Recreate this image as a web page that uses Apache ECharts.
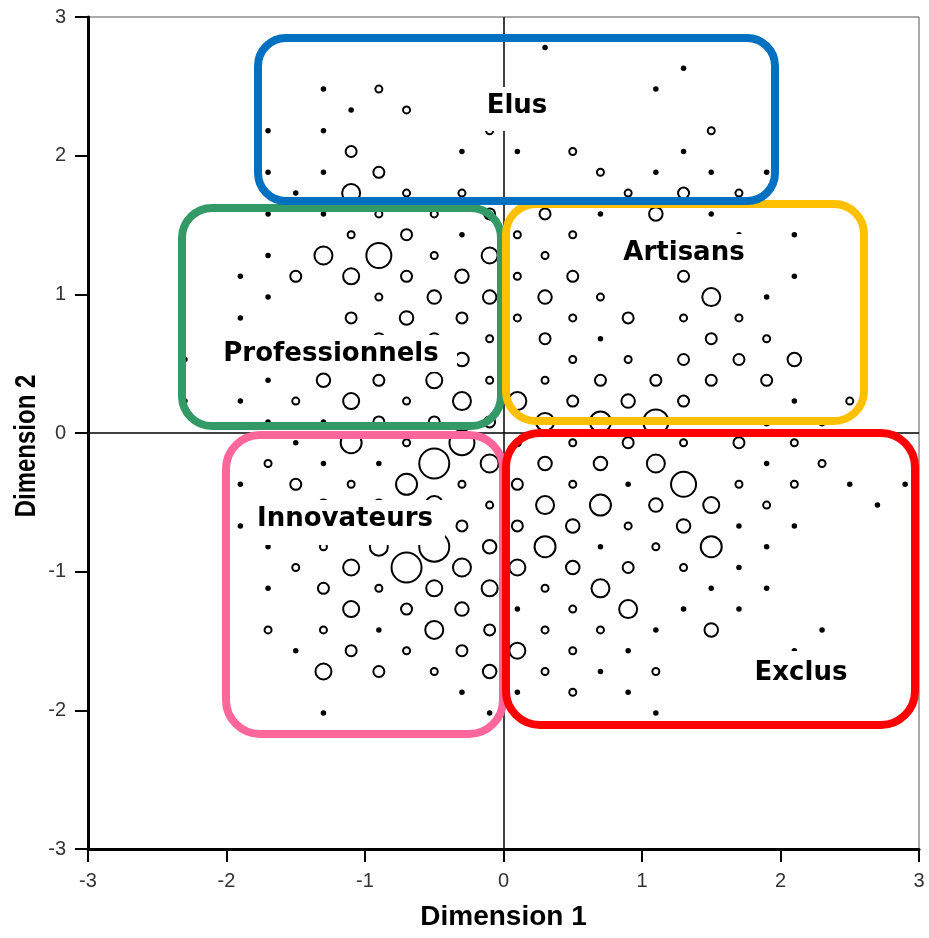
<!DOCTYPE html>
<html>
<head>
<meta charset="utf-8">
<script src="https://cdn.jsdelivr.net/npm/echarts@6/dist/echarts.min.js"></script>
<style>
  html, body { margin: 0; padding: 0; background: #fff; }
  #chart { width: 929px; height: 938px; }
</style>
</head>
<body>
<div id="chart"></div>
<script>
// ---- data: [dimension1, dimension2, weight level] ----
var upperLeft = [
  [-1.3,2.48,1],[-0.9,2.48,2],
  [-1.1,2.33,1],[-0.7,2.33,2],
  [-1.7,2.18,1],[-1.3,2.18,1],[-0.1,2.18,2],
  [-1.1,2.03,3],[-0.3,2.03,1],
  [-1.7,1.88,1],[-1.3,1.88,1],[-0.9,1.88,3],
  [-1.5,1.73,1],[-1.1,1.73,6],[-0.7,1.73,2],[-0.3,1.73,2],
  [-1.7,1.58,1],[-1.3,1.58,1],[-0.9,1.58,2],[-0.5,1.58,2],[-0.1,1.58,3],
  [-1.1,1.43,2],[-0.7,1.43,3],[-0.3,1.43,1],
  [-1.7,1.28,1],[-1.3,1.28,6],[-0.9,1.28,8],[-0.5,1.28,2],[-0.1,1.28,5],
  [-1.9,1.13,1],[-1.5,1.13,3],[-1.1,1.13,5],[-0.7,1.13,3],[-0.3,1.13,4],
  [-1.7,0.98,1],[-0.9,0.98,2],[-0.5,0.98,4],[-0.1,0.98,4],
  [-1.9,0.83,1],[-1.1,0.83,3],[-0.7,0.83,4],[-0.3,0.83,3],
  [-2.1,0.68,1],[-1.7,0.68,1],[-0.9,0.68,3],[-0.5,0.68,3],[-0.1,0.68,2],
  [-2.3,0.53,1],[-0.3,0.53,4],
  [-1.7,0.38,1],[-1.3,0.38,4],[-0.9,0.38,3],[-0.5,0.38,5],[-0.1,0.38,2],
  [-2.3,0.23,1],[-1.9,0.23,1],[-1.5,0.23,2],[-1.1,0.23,5],[-0.7,0.23,2],[-0.3,0.23,6],
  [-1.7,0.08,1],[-1.3,0.08,1],[-0.9,0.08,3],[-0.5,0.08,3],[-0.1,0.08,3]
];
var upperRight = [
  [0.3,2.78,1],
  [1.3,2.63,1],
  [1.1,2.48,1],
  [1.5,2.18,2],
  [0.1,2.03,1],[0.5,2.03,2],[1.3,2.03,1],
  [0.7,1.88,2],[1.1,1.88,1],[1.5,1.88,1],[1.9,1.88,1],
  [0.9,1.73,2],[1.3,1.73,3],[1.7,1.73,2],
  [0.3,1.58,3],[0.7,1.58,1],[1.1,1.58,4],[1.5,1.58,1],
  [0.1,1.43,2],[0.5,1.43,2],[1.7,1.43,1],[2.1,1.43,1],
  [0.3,1.28,2],
  [0.1,1.13,2],[0.5,1.13,3],[1.3,1.13,3],[2.1,1.13,1],
  [0.3,0.98,4],[0.7,0.98,2],[1.5,0.98,6],[1.9,0.98,1],
  [0.1,0.83,2],[0.5,0.83,2],[0.9,0.83,3],[1.3,0.83,2],[1.7,0.83,2],
  [0.3,0.68,3],[0.7,0.68,1],[1.5,0.68,3],[1.9,0.68,2],
  [0.5,0.53,2],[0.9,0.53,2],[1.3,0.53,3],[1.7,0.53,3],[2.1,0.53,4],
  [0.3,0.38,2],[0.7,0.38,3],[1.1,0.38,3],[1.5,0.38,3],[1.9,0.38,3],
  [0.1,0.23,6],[0.5,0.23,3],[0.9,0.23,4],[1.3,0.23,3],[2.1,0.23,1],[2.5,0.23,2],
  [0.3,0.08,6],[0.7,0.08,7],[1.1,0.08,8],[1.9,0.08,2],[2.3,0.08,2]
];
var lowerLeft = [
  [-1.5,-0.07,1],[-1.1,-0.07,7],[-0.7,-0.07,2],[-0.3,-0.07,8],
  [-1.7,-0.22,2],[-1.3,-0.22,1],[-0.9,-0.22,1],[-0.5,-0.22,9],[-0.1,-0.22,6],
  [-1.9,-0.37,1],[-1.5,-0.37,3],[-1.1,-0.37,2],[-0.7,-0.37,7],[-0.3,-0.37,2],
  [-1.7,-0.52,1],[-1.3,-0.52,3],[-0.9,-0.52,3],[-0.5,-0.52,6],[-0.1,-0.52,2],
  [-1.9,-0.67,1],[-0.3,-0.67,3],
  [-1.7,-0.82,1],[-1.3,-0.82,2],[-0.9,-0.82,6],[-0.5,-0.82,9],[-0.1,-0.82,4],
  [-1.5,-0.97,2],[-1.1,-0.97,5],[-0.7,-0.97,9],[-0.3,-0.97,6],
  [-1.7,-1.12,1],[-1.3,-1.12,3],[-0.9,-1.12,2],[-0.5,-1.12,5],[-0.1,-1.12,5],
  [-1.1,-1.27,5],[-0.7,-1.27,3],[-0.3,-1.27,4],
  [-1.7,-1.42,2],[-1.3,-1.42,2],[-0.9,-1.42,1],[-0.5,-1.42,6],[-0.1,-1.42,3],
  [-1.5,-1.57,1],[-1.1,-1.57,3],[-0.7,-1.57,2],[-0.3,-1.57,3],
  [-1.3,-1.72,5],[-0.9,-1.72,3],[-0.5,-1.72,2],[-0.1,-1.72,4],
  [-0.3,-1.87,1],
  [-1.3,-2.02,1],[-0.1,-2.02,1]
];
var lowerRight = [
  [0.1,-0.07,2],[0.5,-0.07,2],[0.9,-0.07,3],[1.3,-0.07,2],[1.7,-0.07,3],[2.1,-0.07,2],
  [0.3,-0.22,4],[0.7,-0.22,4],[1.1,-0.22,6],[1.9,-0.22,1],[2.3,-0.22,2],
  [0.1,-0.37,3],[0.5,-0.37,2],[0.9,-0.37,1],[1.3,-0.37,8],[1.7,-0.37,2],[2.1,-0.37,2],[2.5,-0.37,1],[2.9,-0.37,1],
  [0.3,-0.52,6],[0.7,-0.52,7],[1.1,-0.52,4],[1.5,-0.52,5],[1.9,-0.52,2],[2.7,-0.52,1],
  [0.1,-0.67,3],[0.5,-0.67,4],[0.9,-0.67,2],[1.3,-0.67,4],[1.7,-0.67,1],[2.1,-0.67,1],
  [0.3,-0.82,7],[0.7,-0.82,1],[1.1,-0.82,2],[1.5,-0.82,7],[1.9,-0.82,1],
  [0.1,-0.97,5],[0.5,-0.97,4],[0.9,-0.97,3],[1.3,-0.97,2],[1.7,-0.97,1],
  [0.3,-1.12,2],[0.7,-1.12,6],[1.5,-1.12,1],[1.9,-1.12,1],
  [0.1,-1.27,1],[0.5,-1.27,2],[0.9,-1.27,6],[1.3,-1.27,1],[1.7,-1.27,1],
  [0.3,-1.42,2],[0.7,-1.42,2],[1.1,-1.42,1],[1.5,-1.42,4],[2.3,-1.42,1],
  [0.1,-1.57,5],[0.5,-1.57,2],[0.9,-1.57,1],[2.1,-1.57,1],
  [0.3,-1.72,2],[0.7,-1.72,1],[1.1,-1.72,2],
  [0.1,-1.87,1],[0.5,-1.87,2],[0.9,-1.87,1],
  [1.1,-2.02,1]
];
var axisTicks = [-3, -2, -1, 0, 1, 2, 3];
var axisNames = ['Dimension 1', 'Dimension 2'];
var groupNames = ['Elus', 'Artisans', 'Professionnels', 'Innovateurs', 'Exclus'];

// ---- styling ----
var ringSize = {2: 7, 3: 11, 4: 13.5, 5: 16, 6: 18, 7: 21, 8: 25, 9: 30};
var allPoints = upperLeft.concat(upperRight, lowerLeft, lowerRight);
var dots = allPoints.filter(function (p) { return p[2] === 1; });
var rings = allPoints.filter(function (p) { return p[2] > 1; });

var chart = echarts.init(document.getElementById('chart'), null, {renderer: 'canvas'});

function axisCommon(name) {
  return {
    type: 'value',
    min: axisTicks[0],
    max: axisTicks[axisTicks.length - 1],
    interval: 1,
    splitLine: {show: false},
    axisLine: {show: true, onZero: false, lineStyle: {color: '#000', width: 3}},
    axisTick: {show: true, inside: false, length: 13, lineStyle: {color: '#000', width: 2}},
    axisLabel: {fontSize: 20, color: '#333', fontFamily: 'Liberation Sans, Arial, sans-serif', margin: 22},
    name: name,
    nameLocation: 'middle',
    nameTextStyle: {fontSize: 28, fontWeight: 'bold', color: '#000', fontFamily: 'Liberation Sans, Arial, sans-serif'}
  };
}
var xA = axisCommon(axisNames[0]); xA.nameGap = 54;
var yA = axisCommon(''); // y title drawn below as condensed text

var boxes = [
  {x: 182, y: 208, w: 319, h: 218, r: 30, c: '#339966'},
  {x: 506, y: 204, w: 358, h: 217, r: 30, c: '#FFC000'},
  {x: 258, y: 38,  w: 517, h: 163, r: 28, c: '#0070C0'},
  {x: 226, y: 435, w: 277, h: 299, r: 34, c: '#FF6699'},
  {x: 506, y: 433, w: 409, h: 292, r: 34, c: '#FF0000'}
];
var labelPos = [
  {cx: 517, cy: 106, bg: [483, 87, 69, 44]},
  {cx: 684, cy: 253, bg: [618, 234, 132, 34]},
  {cx: 331, cy: 354, bg: [205, 335, 252, 37]},
  {cx: 345, cy: 519, bg: [249, 500, 196, 45]},
  {cx: 801, cy: 673, bg: [750, 651, 103, 42]}
];

var graphics = [];
boxes.forEach(function (b) {
  graphics.push({
    type: 'rect', z: 100, silent: true,
    shape: {x: b.x, y: b.y, width: b.w, height: b.h, r: b.r},
    style: {fill: 'none', stroke: b.c, lineWidth: 8}
  });
});
labelPos.forEach(function (p, i) {
  graphics.push({
    type: 'rect', z: 110, silent: true,
    shape: {x: p.bg[0], y: p.bg[1], width: p.bg[2], height: p.bg[3]},
    style: {fill: '#fff'}
  });
  graphics.push({
    type: 'text', z: 120, silent: true, x: p.cx, y: p.cy,
    style: {text: groupNames[i], fill: '#000', font: 'bold 26px "DejaVu Sans"', align: 'center', verticalAlign: 'middle'}
  });
});
// y axis title (condensed bold, rotated)
graphics.push({
  type: 'text', z: 120, silent: true, x: 27, y: 446, rotation: Math.PI / 2, scaleX: 0.8, scaleY: 1,
  style: {text: axisNames[1], fill: '#000', font: 'bold 30px "Liberation Sans"', align: 'center', verticalAlign: 'middle'}
});

chart.setOption({
  animation: false,
  backgroundColor: '#fff',
  grid: {left: 88, right: 10, top: 17, bottom: 89, show: true, borderColor: '#555', borderWidth: 1},
  xAxis: xA,
  yAxis: yA,
  series: [
    {
      type: 'scatter', name: 'rings', z: 3,
      data: rings,
      symbol: 'circle',
      symbolSize: function (v) { return ringSize[v[2]]; },
      itemStyle: {color: 'rgba(255,255,255,0)', borderColor: '#000', borderWidth: 2, opacity: 1},
      markLine: {
        silent: true, symbol: ['none', 'none'], label: {show: false},
        lineStyle: {color: '#000', width: 1.5, type: 'solid'},
        data: [{xAxis: 0}, {yAxis: 0}]
      }
    },
    {
      type: 'scatter', name: 'dots', z: 3,
      data: dots,
      symbol: 'circle',
      symbolSize: 5.5,
      itemStyle: {color: '#000', opacity: 1}
    }
  ],
  graphic: graphics
});
</script>
</body>
</html>
